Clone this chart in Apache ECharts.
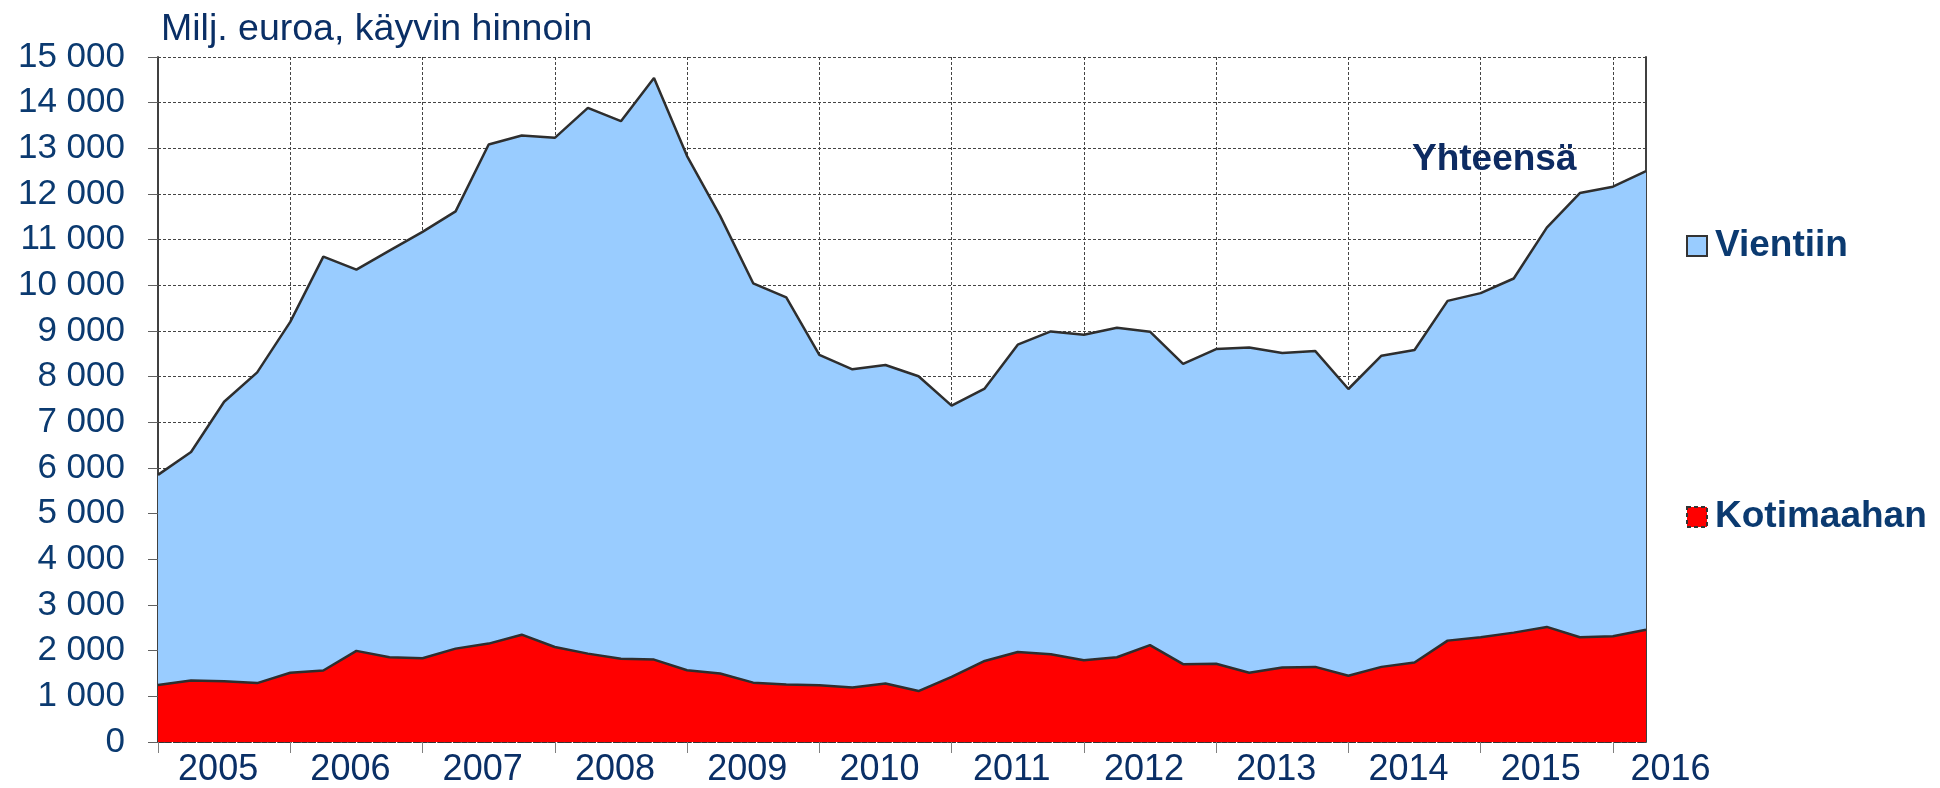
<!DOCTYPE html>
<html>
<head>
<meta charset="utf-8">
<script src="https://cdn.jsdelivr.net/npm/echarts@6/dist/echarts.min.js"></script>
<style>
  html, body { margin: 0; padding: 0; background: #fff; }
  #main { width: 1940px; height: 788px; }
</style>
</head>
<body>
<div id="main"></div>
<script>
// vuosineljännekset 2005 Q1 - 2016 Q2
var years = [2005, 2006, 2007, 2008, 2009, 2010, 2011, 2012, 2013, 2014, 2015, 2016];
var quarters = [];
years.forEach(function (y) {
    for (var q = 1; q <= 4; q++) quarters.push(y + ' Q' + q);
});
quarters = quarters.slice(0, 46);

// milj. euroa
var kotimaahan = [
    1250, 1345, 1330, 1290, 1515, 1565, 1995, 1855, 1835, 2045, 2155, 2350,
    2080, 1935, 1825, 1805, 1570, 1500, 1300, 1260, 1245, 1195, 1280, 1115,
    1425, 1775, 1970, 1920, 1790, 1855, 2120, 1705, 1715, 1515, 1630, 1645,
    1450, 1645, 1740, 2220, 2295, 2395, 2520, 2295, 2315, 2460
];
var vientiin = [
    4600, 5005, 6120, 6805, 7685, 9065, 8350, 8905, 9335, 9575, 10930, 10930,
    11150, 11950, 11770, 12735, 11260, 10020, 8745, 8475, 7230, 6965, 6975, 6895,
    5940, 5965, 6730, 7070, 7130, 7215, 6865, 6575, 6890, 7125, 6890, 6915,
    6280, 6815, 6845, 7440, 7535, 7755, 8745, 9725, 9845, 10040
];

var navy = '#0b3a70';
var myChart = echarts.init(document.getElementById('main'));

var option = {
    animation: false,
    backgroundColor: '#fff',
    title: [
        {
            text: 'Milj. euroa, käyvin hinnoin',
            left: 156,
            top: 6,
            textStyle: {color: '#0a2f66', fontSize: 37.5, fontWeight: 'normal', fontFamily: 'Liberation Sans, Arial'}
        },
        {
            text: 'Yhteensä',
            left: 1407,
            top: 136,
            textStyle: {color: '#0d2b62', fontSize: 37, fontWeight: 'bold', fontFamily: 'Liberation Sans, Arial'}
        }
    ],
    legend: {
        orient: 'vertical',
        left: 1681,
        top: 221,
        itemGap: 231,
        itemWidth: 20,
        itemHeight: 20,
        icon: 'rect',
        textStyle: {color: navy, fontSize: 37, fontWeight: 'bold', lineHeight: 40,
            fontFamily: 'Liberation Sans, Arial', padding: [0, 0, 0, 3]},
        data: [
            {name: 'Vientiin', itemStyle: {color: '#99ccff', borderColor: '#333', borderWidth: 2}},
            {name: 'Kotimaahan', itemStyle: {color: '#ff0000', borderColor: '#333', borderWidth: 2, borderType: [4, 3]}}
        ]
    },
    grid: {
        left: 158,
        right: 294,
        top: 57,
        bottom: 44
    },
    xAxis: {
        type: 'category',
        data: quarters,
        boundaryGap: false,
        axisLine: {lineStyle: {color: '#333', width: 2, type: [5, 3]}},
        axisTick: {
            interval: function (i) { return i % 4 === 0; },
            length: 11,
            lineStyle: {color: '#808080', width: 1}
        },
        splitLine: {
            show: true,
            interval: function (i) { return i % 4 === 0 && i > 0; },
            lineStyle: {color: '#444', width: 1, type: [3, 2]}
        },
        axisLabel: {
            interval: function (i) { return i % 4 === 2 || i === 45; },
            formatter: function (v, i) {
                var y = v.split(' ')[0];
                return i === 45 ? '{end|' + y + '}' : y;
            },
            color: '#0a2f66',
            fontSize: 36,
            fontFamily: 'Liberation Sans, Arial',
            margin: 10,
            padding: [0, 12, 0, 0],
            rich: {
                end: {fontSize: 36, color: '#0a2f66', fontFamily: 'Liberation Sans, Arial', padding: [0, 0, 0, 61]}
            }
        }
    },
    yAxis: [
        {
            type: 'value',
            min: 0,
            max: 15000,
            interval: 1000,
            axisLine: {show: true, lineStyle: {color: '#404040', width: 2}},
            axisTick: {show: true, length: 10, lineStyle: {color: '#606060'}},
            splitLine: {lineStyle: {color: '#444', width: 1, type: [3, 2]}},
            axisLabel: {
                color: navy,
                fontSize: 35,
                fontFamily: 'Liberation Sans, Arial',
                margin: 33,
                formatter: function (v) {
                    return String(v).replace(/\B(?=(\d{3})+(?!\d))/g, ' ');
                }
            }
        },
        {
            type: 'value',
            position: 'right',
            min: 0,
            max: 15000,
            interval: 1000,
            axisLine: {show: true, lineStyle: {color: '#404040', width: 2}},
            axisTick: {show: false},
            axisLabel: {show: false},
            splitLine: {show: false}
        }
    ],
    series: [
        {
            name: 'Kotimaahan',
            type: 'line',
            stack: 'yht',
            data: kotimaahan,
            showSymbol: false,
            symbol: 'none',
            lineStyle: {color: '#2e2e2e', width: 2.5},
            areaStyle: {color: '#ff0000', opacity: 1},
            itemStyle: {color: '#ff0000'},
            z: 3
        },
        {
            name: 'Vientiin',
            type: 'line',
            stack: 'yht',
            data: vientiin,
            showSymbol: false,
            symbol: 'none',
            lineStyle: {color: '#2e2e2e', width: 2.5},
            areaStyle: {color: '#99ccff', opacity: 1},
            itemStyle: {color: '#99ccff'},
            z: 2
        }
    ]
};
myChart.setOption(option);

window.addEventListener('resize', function () {
    myChart.resize();
});
</script>
</body>
</html>
